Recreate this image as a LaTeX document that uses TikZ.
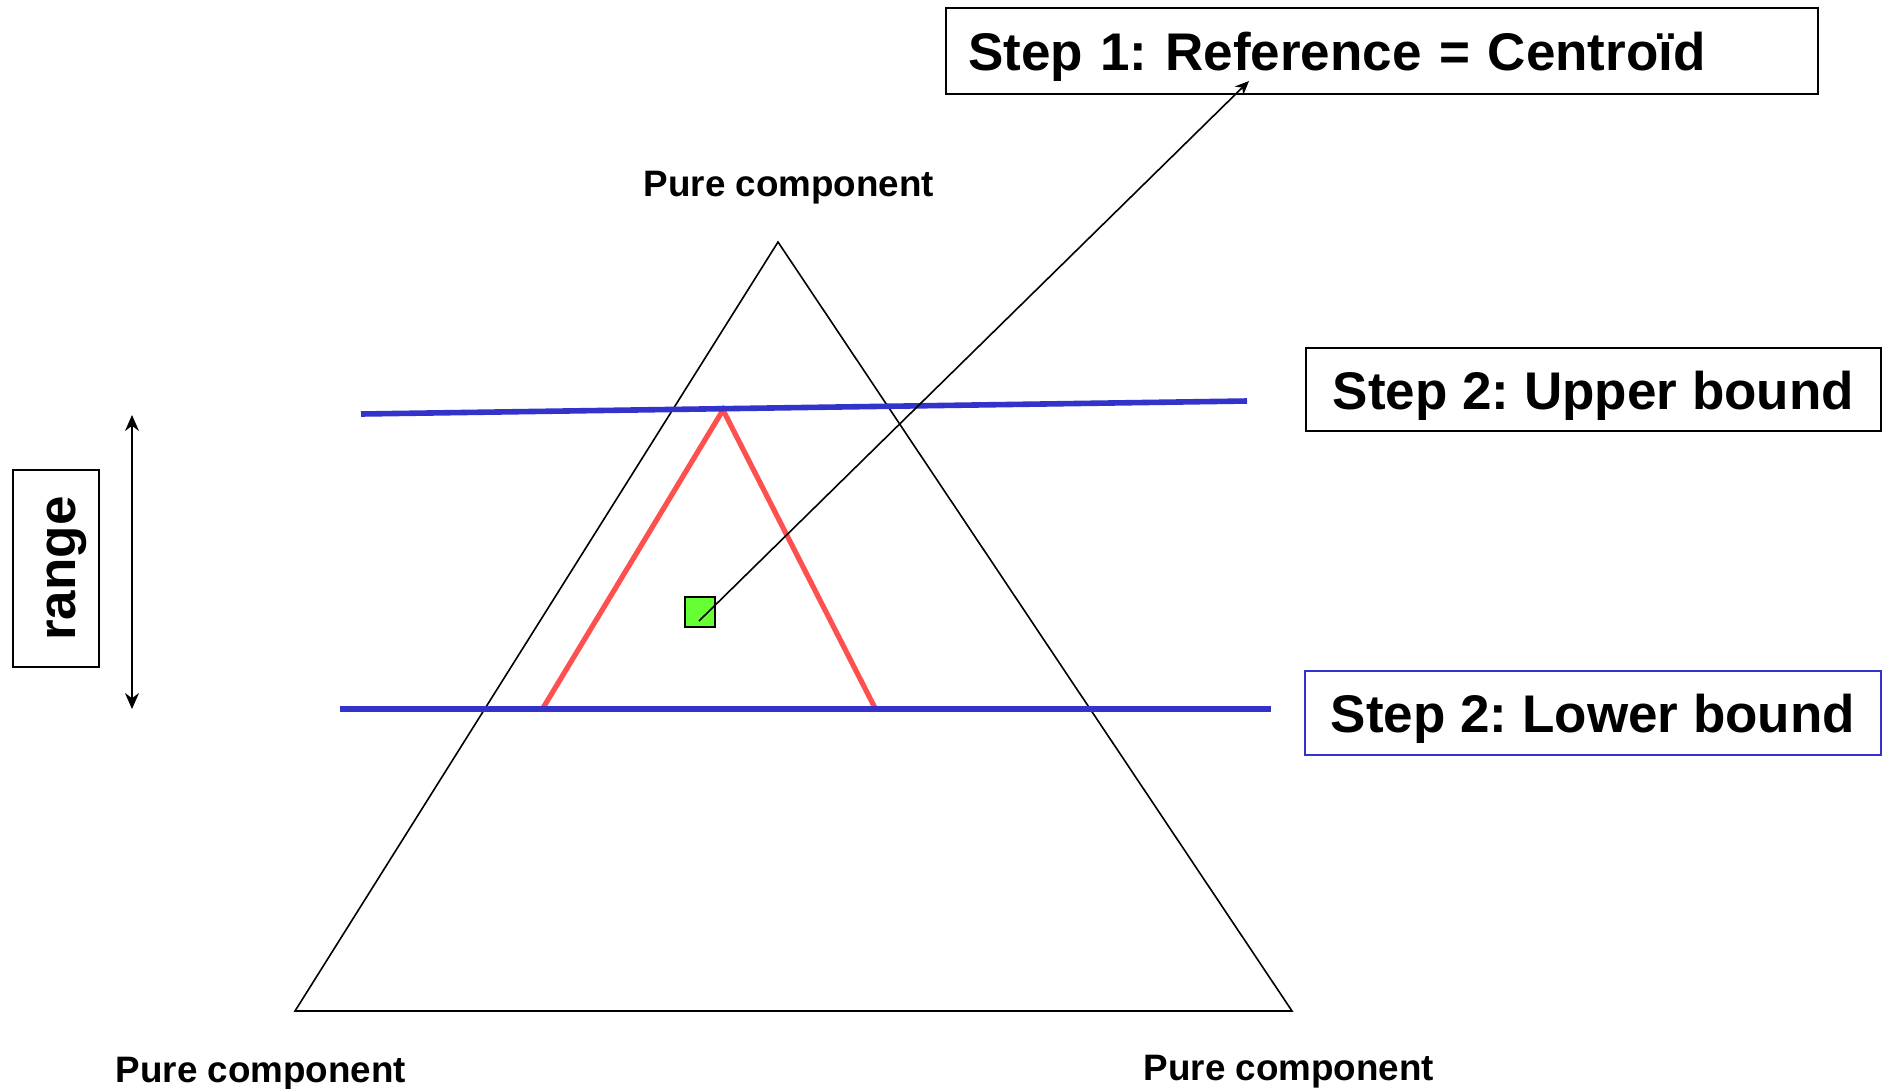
\documentclass[tikz,border=0pt]{standalone}
\usepackage{fontspec}
\setmainfont{Liberation Sans}
\usetikzlibrary{arrows.meta}
\definecolor{bbl}{HTML}{3333CC}
\definecolor{rred}{HTML}{FF5050}
\definecolor{ggr}{HTML}{66FF33}
\frenchspacing
\tikzset{
  stepbox/.style={draw=black, line width=1pt, inner sep=0pt, font=\fontsize{26.5}{30}\selectfont\bfseries, text height=21pt, text depth=1.4pt},
  purelbl/.style={font=\fontsize{18.4}{22}\selectfont\bfseries, inner sep=0pt},
  tri/.style={draw=black, line width=0.8pt},
  bound/.style={draw=bbl, line width=2.8pt},
  inner/.style={draw=rred, line width=2.6pt, line join=miter},
  conn/.style={draw=black, line width=0.8pt, -{Stealth[length=7pt,width=6pt]}},
}
\begin{document}
\begin{tikzpicture}[x=0.5pt,y=-0.5pt]
\useasboundingbox (0,0) rectangle (1888,1088);
% main triangle
\coordinate (A) at (778,242);
\coordinate (B) at (295,1011);
\coordinate (C) at (1292,1011);
\draw[tri] (A) -- (B) -- (C) -- cycle;
% bounds
\coordinate (u1) at (361,414);
\coordinate (u2) at (1247,401);
\coordinate (l1) at (340,709);
\coordinate (l2) at (1271,709);
% red triangle
\coordinate (r1) at (723,410);
\coordinate (r2) at (543,708);
\coordinate (r3) at (875,708);
\draw[inner] (r2) -- (r1) -- (r3);
\draw[bound] (u1) -- (u2);
\draw[bound] (l1) -- (l2);
% centroid
\node[draw=black, line width=1pt, fill=ggr, minimum width=15pt, minimum height=15pt, inner sep=0pt] (cen) at (700,612) {};
\coordinate (cs) at (699,621);
% boxes
\node[stepbox, minimum width=436pt, minimum height=43pt, text width=414pt, align=left] (s1) at (1382,51) {Step 1: Reference = Centroïd};
\coordinate (s1tip) at (1249,81);
\draw[conn] (cs) -- (s1tip);
\node[stepbox, minimum width=287.5pt, minimum height=41.5pt] (s2u) at (1593.5,389.5) {Step 2: Upper bound};
\node[stepbox, draw=bbl, minimum width=288pt, minimum height=42pt] (s2l) at (1593,713) {Step 2: Lower bound};
% range
\node[stepbox, rotate=90, minimum width=98.5pt, minimum height=43pt] (rg) at (56,568.5) {range};
\coordinate (ra) at (132,415);
\coordinate (rb) at (132,709);
\draw[line width=0.8pt, {Stealth[length=8pt,width=7pt]}-{Stealth[length=8pt,width=7pt]}] (ra) -- (rb);
% labels
\node[purelbl] (pt) at (789,188) {Pure component};
\node[purelbl] (pl) at (261,1074) {Pure component};
\node[purelbl] (pr) at (1289,1072) {Pure component};
\end{tikzpicture}
\end{document}
